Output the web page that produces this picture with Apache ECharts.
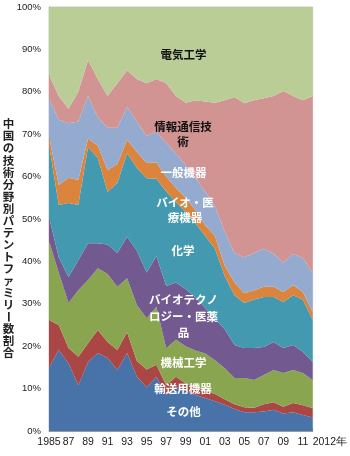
<!DOCTYPE html>
<html><head><meta charset="utf-8">
<script src="https://cdn.jsdelivr.net/npm/echarts@6/dist/echarts.min.js"></script>
<style>html,body{margin:0;padding:0;background:#fff}#c{width:350px;height:456px}</style>
</head><body><div id="c"></div>
<script>
var years = ['1985','1986','1987','1988','1989','1990','1991','1992','1993','1994','1995','1996','1997','1998','1999','2000','2001','2002','2003','2004','2005','2006','2007','2008','2009','2010','2011','2012'];
var yTicks = [0,10,20,30,40,50,60,70,80,90,100];
var seriesNames = ['その他','輸送用機器','機械工学','バイオテクノロジー・医薬品','化学','バイオ・医療機器','一般機器','情報通信技術','電気工学'];
var sonota   = [15,19.1,16,10.8,16.3,18.4,17.2,14.4,18.4,12.8,10.3,12.8,8.5,10.4,9.5,8.5,7.8,7,6.2,5.2,4.4,4.4,4.6,5,4.1,4.4,3.8,3.2];
var yusou    = [11.2,5.9,3.6,6.7,4.4,5.4,3.8,4.7,4.9,3.7,4.2,2.8,2.3,2.4,1.7,1.8,1.7,1.7,1.3,1.1,1.2,1.1,1.7,1.8,1.6,2.2,2.3,2.2];
var kikai    = [18.6,12.3,10.6,15.7,14.9,14.6,16,14.9,12.7,13.2,12.1,13.7,8.7,8.7,8.8,8.7,8.8,8,7.3,6.2,6.9,6.5,6.9,7.6,8,7.8,7.6,6.6];
var biotech  = [5.7,3.7,6.1,7.1,8.7,5.9,7,8,9.8,12.8,10.8,12,14.7,13.5,13.5,12.5,10.7,9.8,9.2,7.8,7.1,7.6,6.6,6.6,5.9,5.9,5,4.3];
var kagaku   = [17,12.3,17.5,13,22.7,20.1,12.4,16.5,19.7,19.5,22.2,18.2,22.3,19,18.1,17.5,17,16.5,12.5,11.7,10.6,11.4,11.8,10.6,10.8,11.7,12.3,9.9];
var bioiryo  = [2,4.7,5.9,5.9,2,2.9,5.1,4.5,3.2,3.8,3.6,3.8,3.5,3.3,3.4,3,2.5,3,2.5,3,2.3,2.2,2.4,2.4,2.4,2.4,1.8,1.8];
var ippan    = [9,15.4,12.9,13.8,10,6.7,10,8.5,7.8,7.2,6.4,7.3,8,8.2,7.7,7.7,7.9,7,8,7,8.5,8.8,9,7.8,6.9,7.4,8,9.3];
var joho     = [5.5,5.6,3.4,7,8.5,9,7.5,10.5,8.5,10,12.4,12.4,14,13.5,14.7,18.3,21.3,24.4,31,36.8,36.3,36,35.5,37.2,40.5,37.2,37.2,41.7];
var denki    = [16,21,24,20,12.5,17,21,18,15,17,18,17,18,21,22.6,22,22.3,22.6,22,21.2,22.7,22,21.5,21,19.8,21,22,21];
var colors = ['#4773A8','#AA4643','#8AA54F','#72598F','#4399AF','#DB843D','#95AACF','#D29393','#BACD97'];

var dataList = [sonota,yusou,kikai,biotech,kagaku,bioiryo,ippan,joho,denki];
var series = dataList.map(function(d,i){
  return {name:seriesNames[i],type:'line',stack:'total',data:d,symbol:'none',
    lineStyle:{width:0},areaStyle:{color:colors[i],opacity:1},itemStyle:{color:colors[i]},
    emphasis:{disabled:true},animation:false};
});

var jp = '"Noto Sans CJK JP", sans-serif';
var graphics = [];
var title = '中国の技術分野別パテントファミリー数割合';
for (var i=0;i<title.length;i++){
  var ch = title[i];
  graphics.push({type:'text',z:100,x:8.5,y:124+i*12.05,rotation:(ch==='ー'?-Math.PI/2:0),
    style:{text:ch,font:'bold 11.5px '+jp,fill:'#222',align:'center',verticalAlign:'middle'}});
}
function lab(t,x,y,c,lh){
  graphics.push({type:'text',z:100,x:x,y:y,style:{text:t,font:'bold 11.5px '+jp,fill:c,align:'center',verticalAlign:'middle',lineHeight:lh||15}});
}
lab('電気工学',183.5,55,'#111');
lab('情報通信技\n術',183,134.5,'#111',15);
lab('一般機器',183.5,173,'#fff');
lab('バイオ・医\n療機器',185,210.5,'#fff',15);
lab('化学',183,251,'#fff');
lab('バイオテクノ\nロジー・医薬\n品',183.5,316.5,'#fff',16.5);
lab('機械工学',183.5,363,'#fff');
lab('輸送用機器',183,389,'#fff');
lab('その他',183.5,412,'#fff');

var chart = echarts.init(document.getElementById('c'),null,{renderer:'canvas'});
chart.setOption({
  animation:false,
  grid:{left:49,right:32,top:7,bottom:25,show:true,borderColor:'#c8c8c8',borderWidth:1},
  xAxis:{type:'category',data:years,boundaryGap:false,
    axisLine:{lineStyle:{color:'#999'}},
    axisTick:{inside:true,length:3,interval:0,lineStyle:{color:'#999'}},
    axisLabel:{color:'#222',fontSize:10.5,fontFamily:'Arial, "Liberation Sans", sans-serif',margin:6,
      alignMaxLabel:'left',
      interval:function(idx){return idx%2===0 || idx===years.length-1;},
      formatter:function(v,idx){ if(idx===0) return v; if(idx===years.length-1) return v+'年'; return v.slice(2);} }},
  yAxis:{type:'value',min:yTicks[0],max:yTicks[yTicks.length-1],interval:10,
    axisLine:{show:true,lineStyle:{color:'#999'}},
    axisTick:{show:true,inside:true,length:3,lineStyle:{color:'#999'}},
    splitLine:{show:false},
    axisLabel:{color:'#222',fontSize:9.5,fontFamily:'Arial, "Liberation Sans", sans-serif',margin:8,formatter:'{value}%'}},
  series:series,
  graphic:graphics
});
</script></body></html>
